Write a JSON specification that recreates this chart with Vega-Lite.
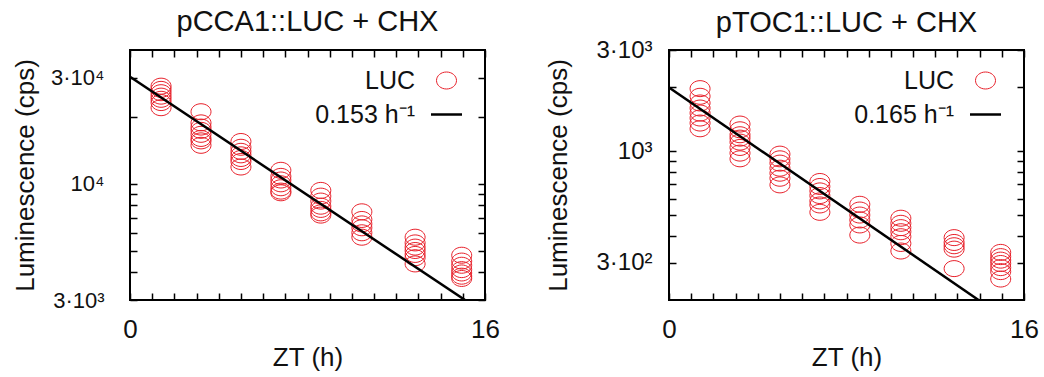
{
  "$schema": "https://vega.github.io/schema/vega-lite/v6.json",
  "padding": {"left": 10, "top": 7, "right": 0, "bottom": 0},
  "datasets": {
    "cca1": [
      {"t": 1.4, "v": 27500, "s": "LUC"}, {"t": 1.4, "v": 26600, "s": "LUC"}, {"t": 1.4, "v": 25700, "s": "LUC"}, {"t": 1.4, "v": 24800, "s": "LUC"}, {"t": 1.4, "v": 24000, "s": "LUC"}, {"t": 1.4, "v": 23200, "s": "LUC"}, {"t": 1.4, "v": 22000, "s": "LUC"},
      {"t": 3.2, "v": 21100, "s": "LUC"}, {"t": 3.2, "v": 18800, "s": "LUC"}, {"t": 3.2, "v": 18000, "s": "LUC"}, {"t": 3.2, "v": 17400, "s": "LUC"}, {"t": 3.2, "v": 16700, "s": "LUC"}, {"t": 3.2, "v": 16000, "s": "LUC"}, {"t": 3.2, "v": 15600, "s": "LUC"}, {"t": 3.2, "v": 14900, "s": "LUC"},
      {"t": 5.0, "v": 15500, "s": "LUC"}, {"t": 5.0, "v": 14600, "s": "LUC"}, {"t": 5.0, "v": 14000, "s": "LUC"}, {"t": 5.0, "v": 13500, "s": "LUC"}, {"t": 5.0, "v": 13000, "s": "LUC"}, {"t": 5.0, "v": 12600, "s": "LUC"}, {"t": 5.0, "v": 11900, "s": "LUC"},
      {"t": 6.8, "v": 11500, "s": "LUC"}, {"t": 6.8, "v": 10800, "s": "LUC"}, {"t": 6.8, "v": 10400, "s": "LUC"}, {"t": 6.8, "v": 10000, "s": "LUC"}, {"t": 6.8, "v": 9600, "s": "LUC"}, {"t": 6.8, "v": 9270, "s": "LUC"}, {"t": 6.8, "v": 9110, "s": "LUC"},
      {"t": 8.6, "v": 9340, "s": "LUC"}, {"t": 8.6, "v": 8800, "s": "LUC"}, {"t": 8.6, "v": 8360, "s": "LUC"}, {"t": 8.6, "v": 7930, "s": "LUC"}, {"t": 8.6, "v": 7670, "s": "LUC"}, {"t": 8.6, "v": 7400, "s": "LUC"}, {"t": 8.6, "v": 7230, "s": "LUC"},
      {"t": 10.45, "v": 7480, "s": "LUC"}, {"t": 10.45, "v": 6910, "s": "LUC"}, {"t": 10.45, "v": 6600, "s": "LUC"}, {"t": 10.45, "v": 6340, "s": "LUC"}, {"t": 10.45, "v": 6020, "s": "LUC"}, {"t": 10.45, "v": 5750, "s": "LUC"},
      {"t": 12.85, "v": 5750, "s": "LUC"}, {"t": 12.85, "v": 5420, "s": "LUC"}, {"t": 12.85, "v": 5190, "s": "LUC"}, {"t": 12.85, "v": 5010, "s": "LUC"}, {"t": 12.85, "v": 4810, "s": "LUC"}, {"t": 12.85, "v": 4650, "s": "LUC"}, {"t": 12.85, "v": 4360, "s": "LUC"},
      {"t": 14.95, "v": 4770, "s": "LUC"}, {"t": 14.95, "v": 4490, "s": "LUC"}, {"t": 14.95, "v": 4300, "s": "LUC"}, {"t": 14.95, "v": 4110, "s": "LUC"}, {"t": 14.95, "v": 3970, "s": "LUC"}, {"t": 14.95, "v": 3840, "s": "LUC"}, {"t": 14.95, "v": 3750, "s": "LUC"}
    ],
    "cca1fit": [
      {"t": 0, "v": 30300, "s": "0.153 h⁻¹"},
      {"t": 15.1, "v": 3000, "s": "0.153 h⁻¹"}
    ],
    "toc1": [
      {"t": 1.4, "v": 1974, "s": "LUC"}, {"t": 1.4, "v": 1817, "s": "LUC"}, {"t": 1.4, "v": 1690, "s": "LUC"}, {"t": 1.4, "v": 1600, "s": "LUC"}, {"t": 1.4, "v": 1516, "s": "LUC"}, {"t": 1.4, "v": 1436, "s": "LUC"}, {"t": 1.4, "v": 1360, "s": "LUC"}, {"t": 1.4, "v": 1278, "s": "LUC"},
      {"t": 3.2, "v": 1345, "s": "LUC"}, {"t": 3.2, "v": 1264, "s": "LUC"}, {"t": 3.2, "v": 1198, "s": "LUC"}, {"t": 3.2, "v": 1155, "s": "LUC"}, {"t": 3.2, "v": 1106, "s": "LUC"}, {"t": 3.2, "v": 1044, "s": "LUC"}, {"t": 3.2, "v": 982, "s": "LUC"}, {"t": 3.2, "v": 923, "s": "LUC"},
      {"t": 5.0, "v": 971, "s": "LUC"}, {"t": 5.0, "v": 923, "s": "LUC"}, {"t": 5.0, "v": 881, "s": "LUC"}, {"t": 5.0, "v": 834, "s": "LUC"}, {"t": 5.0, "v": 790, "s": "LUC"}, {"t": 5.0, "v": 748, "s": "LUC"}, {"t": 5.0, "v": 696, "s": "LUC"},
      {"t": 6.8, "v": 722, "s": "LUC"}, {"t": 6.8, "v": 684, "s": "LUC"}, {"t": 6.8, "v": 652, "s": "LUC"}, {"t": 6.8, "v": 620, "s": "LUC"}, {"t": 6.8, "v": 585, "s": "LUC"}, {"t": 6.8, "v": 560, "s": "LUC"}, {"t": 6.8, "v": 517, "s": "LUC"},
      {"t": 8.6, "v": 564, "s": "LUC"}, {"t": 8.6, "v": 530, "s": "LUC"}, {"t": 8.6, "v": 502, "s": "LUC"}, {"t": 8.6, "v": 476, "s": "LUC"}, {"t": 8.6, "v": 451, "s": "LUC"}, {"t": 8.6, "v": 404, "s": "LUC"},
      {"t": 10.45, "v": 485, "s": "LUC"}, {"t": 10.45, "v": 459, "s": "LUC"}, {"t": 10.45, "v": 438, "s": "LUC"}, {"t": 10.45, "v": 419, "s": "LUC"}, {"t": 10.45, "v": 397, "s": "LUC"}, {"t": 10.45, "v": 369, "s": "LUC"}, {"t": 10.45, "v": 340, "s": "LUC"},
      {"t": 12.85, "v": 393, "s": "LUC"}, {"t": 12.85, "v": 373, "s": "LUC"}, {"t": 12.85, "v": 360, "s": "LUC"}, {"t": 12.85, "v": 347, "s": "LUC"}, {"t": 12.85, "v": 281, "s": "LUC"},
      {"t": 14.95, "v": 335, "s": "LUC"}, {"t": 14.95, "v": 320, "s": "LUC"}, {"t": 14.95, "v": 308, "s": "LUC"}, {"t": 14.95, "v": 297, "s": "LUC"}, {"t": 14.95, "v": 284, "s": "LUC"}, {"t": 14.95, "v": 272, "s": "LUC"}, {"t": 14.95, "v": 251, "s": "LUC"}
    ],
    "toc1fit": [
      {"t": 0, "v": 2000, "s": "0.165 h⁻¹"},
      {"t": 13.95, "v": 200, "s": "0.165 h⁻¹"}
    ]
  },
  "hconcat": [
    {
      "width": 355,
      "height": 250,
      "title": {"text": "pCCA1::LUC + CHX", "offset": 12},
      "layer": [
        {
          "data": {"name": "cca1"},
          "mark": {"type": "point", "shape": "M-1,0A1,0.8,0,1,0,1,0A1,0.8,0,1,0,-1,0Z", "filled": false, "size": 400, "strokeWidth": 1, "opacity": 1},
          "encoding": {
            "x": {"field": "t", "type": "quantitative", "scale": {"domain": [0, 16], "nice": false, "zero": false},
              "axis": {"orient": "bottom", "title": "ZT (h)", "values": [0,1,2,3,4,5,6,7,8,9,10,11,12,13,14,15,16],
                "labelExpr": "datum.value == 0 || datum.value == 16 ? datum.label : ''", "labelFlush": false, "labelOverlap": false,
                "labelPadding": 23, "labelFontSize": 26, "minExtent": 36, "maxExtent": 36, "titlePadding": 8}},
            "y": {"field": "v", "type": "quantitative", "scale": {"type": "log", "domain": [3000, 40000], "nice": false},
              "axis": {"orient": "left", "title": "Luminescence (cps)", "values": [3000,4000,5000,6000,7000,8000,9000,10000,20000,30000],
                "labelExpr": "datum.value == 30000 ? '3·10⁴' : datum.value == 10000 ? '10⁴' : datum.value == 3000 ? '3·10³' : ''",
                "labelOverlap": false, "labelPadding": 33, "labelFontSize": 22, "minExtent": 76, "maxExtent": 76, "titlePadding": 16}},
            "color": {"field": "s", "type": "nominal", "scale": {"domain": ["LUC", "0.153 h⁻¹"], "range": ["#e8202a", "#000000"]},
              "legend": {"orient": "top-right", "offset": 18, "title": null, "labelAlign": "right", "labelOffset": -44, "labelFontSize": 25, "symbolSize": 400, "rowPadding": 8,
                "symbolType": {"expr": "datum.value === 'LUC' ? 'M-1,0A1,0.85,0,1,0,1,0A1,0.85,0,1,0,-1,0Z' : 'M-1.55,0H1.55'"},
                "symbolStrokeWidth": {"expr": "datum.value === 'LUC' ? 1 : 2.5"}}}
          }
        },
        {
          "data": {"name": "cca1fit"},
          "mark": {"type": "line", "strokeWidth": 2.5, "clip": true},
          "encoding": {
            "x": {"field": "t", "type": "quantitative", "axis": {"orient": "top", "values": [0,1,2,3,4,5,6,7,8,9,10,11,12,13,14,15,16], "labels": false, "title": null}},
            "y": {"field": "v", "type": "quantitative", "axis": {"orient": "right", "values": [3000,4000,5000,6000,7000,8000,9000,10000,20000,30000], "labels": false, "title": null}},
            "color": {"field": "s", "type": "nominal"}
          }
        }
      ],
      "resolve": {"axis": {"x": "independent", "y": "independent"}}
    },
    {
      "width": 355,
      "height": 250,
      "title": {"text": "pTOC1::LUC + CHX", "offset": 0},
      "layer": [
        {
          "data": {"name": "toc1"},
          "mark": {"type": "point", "shape": "M-1,0A1,0.8,0,1,0,1,0A1,0.8,0,1,0,-1,0Z", "filled": false, "size": 400, "strokeWidth": 1, "opacity": 1},
          "encoding": {
            "x": {"field": "t", "type": "quantitative", "scale": {"domain": [0, 16], "nice": false, "zero": false},
              "axis": {"orient": "bottom", "title": "ZT (h)", "values": [0,1,2,3,4,5,6,7,8,9,10,11,12,13,14,15,16],
                "labelExpr": "datum.value == 0 || datum.value == 16 ? datum.label : ''", "labelFlush": false, "labelOverlap": false,
                "labelPadding": 23, "labelFontSize": 26, "minExtent": 36, "maxExtent": 36, "titlePadding": 8}},
            "y": {"field": "v", "type": "quantitative", "scale": {"type": "log", "domain": [200, 3000], "nice": false},
              "axis": {"orient": "left", "title": "Luminescence (cps)", "values": [300,400,500,600,700,800,900,1000,2000,3000],
                "labelExpr": "datum.value == 3000 ? '3·10³' : datum.value == 1000 ? '10³' : datum.value == 300 ? '3·10²' : ''",
                "labelOverlap": false, "labelPadding": 24, "labelFontSize": 24, "minExtent": 76, "maxExtent": 76, "titlePadding": 22}},
            "color": {"field": "s", "type": "nominal", "scale": {"domain": ["LUC", "0.165 h⁻¹"], "range": ["#e8202a", "#000000"]},
              "legend": {"orient": "top-right", "offset": 18, "title": null, "labelAlign": "right", "labelOffset": -44, "labelFontSize": 25, "symbolSize": 400, "rowPadding": 8,
                "symbolType": {"expr": "datum.value === 'LUC' ? 'M-1,0A1,0.85,0,1,0,1,0A1,0.85,0,1,0,-1,0Z' : 'M-1.55,0H1.55'"},
                "symbolStrokeWidth": {"expr": "datum.value === 'LUC' ? 1 : 2.5"}}}
          }
        },
        {
          "data": {"name": "toc1fit"},
          "mark": {"type": "line", "strokeWidth": 2.5, "clip": true},
          "encoding": {
            "x": {"field": "t", "type": "quantitative", "axis": {"orient": "top", "values": [0,1,2,3,4,5,6,7,8,9,10,11,12,13,14,15,16], "labels": false, "title": null}},
            "y": {"field": "v", "type": "quantitative", "axis": {"orient": "right", "values": [300,400,500,600,700,800,900,1000,2000,3000], "labels": false, "title": null}},
            "color": {"field": "s", "type": "nominal"}
          }
        }
      ],
      "resolve": {"axis": {"x": "independent", "y": "independent"}}
    }
  ],
  "spacing": 184,
  "bounds": "flush",
  "resolve": {"scale": {"color": "independent"}},
  "config": {
    "font": "Liberation Sans",
    "background": "white",
    "view": {"stroke": "#000000", "strokeWidth": 2},
    "axis": {"grid": false, "domain": false, "tickColor": "#000000", "tickWidth": 1.5, "tickSize": -7,
      "labelColor": "#111111", "titleColor": "#111111", "labelFont": "Liberation Sans", "titleFont": "Liberation Sans",
      "titleFontWeight": "normal", "titleFontSize": 26},
    "title": {"fontSize": 29, "fontWeight": "normal", "color": "#111111", "font": "Liberation Sans"},
    "legend": {"labelColor": "#111111", "labelFont": "Liberation Sans"}
  }
}
